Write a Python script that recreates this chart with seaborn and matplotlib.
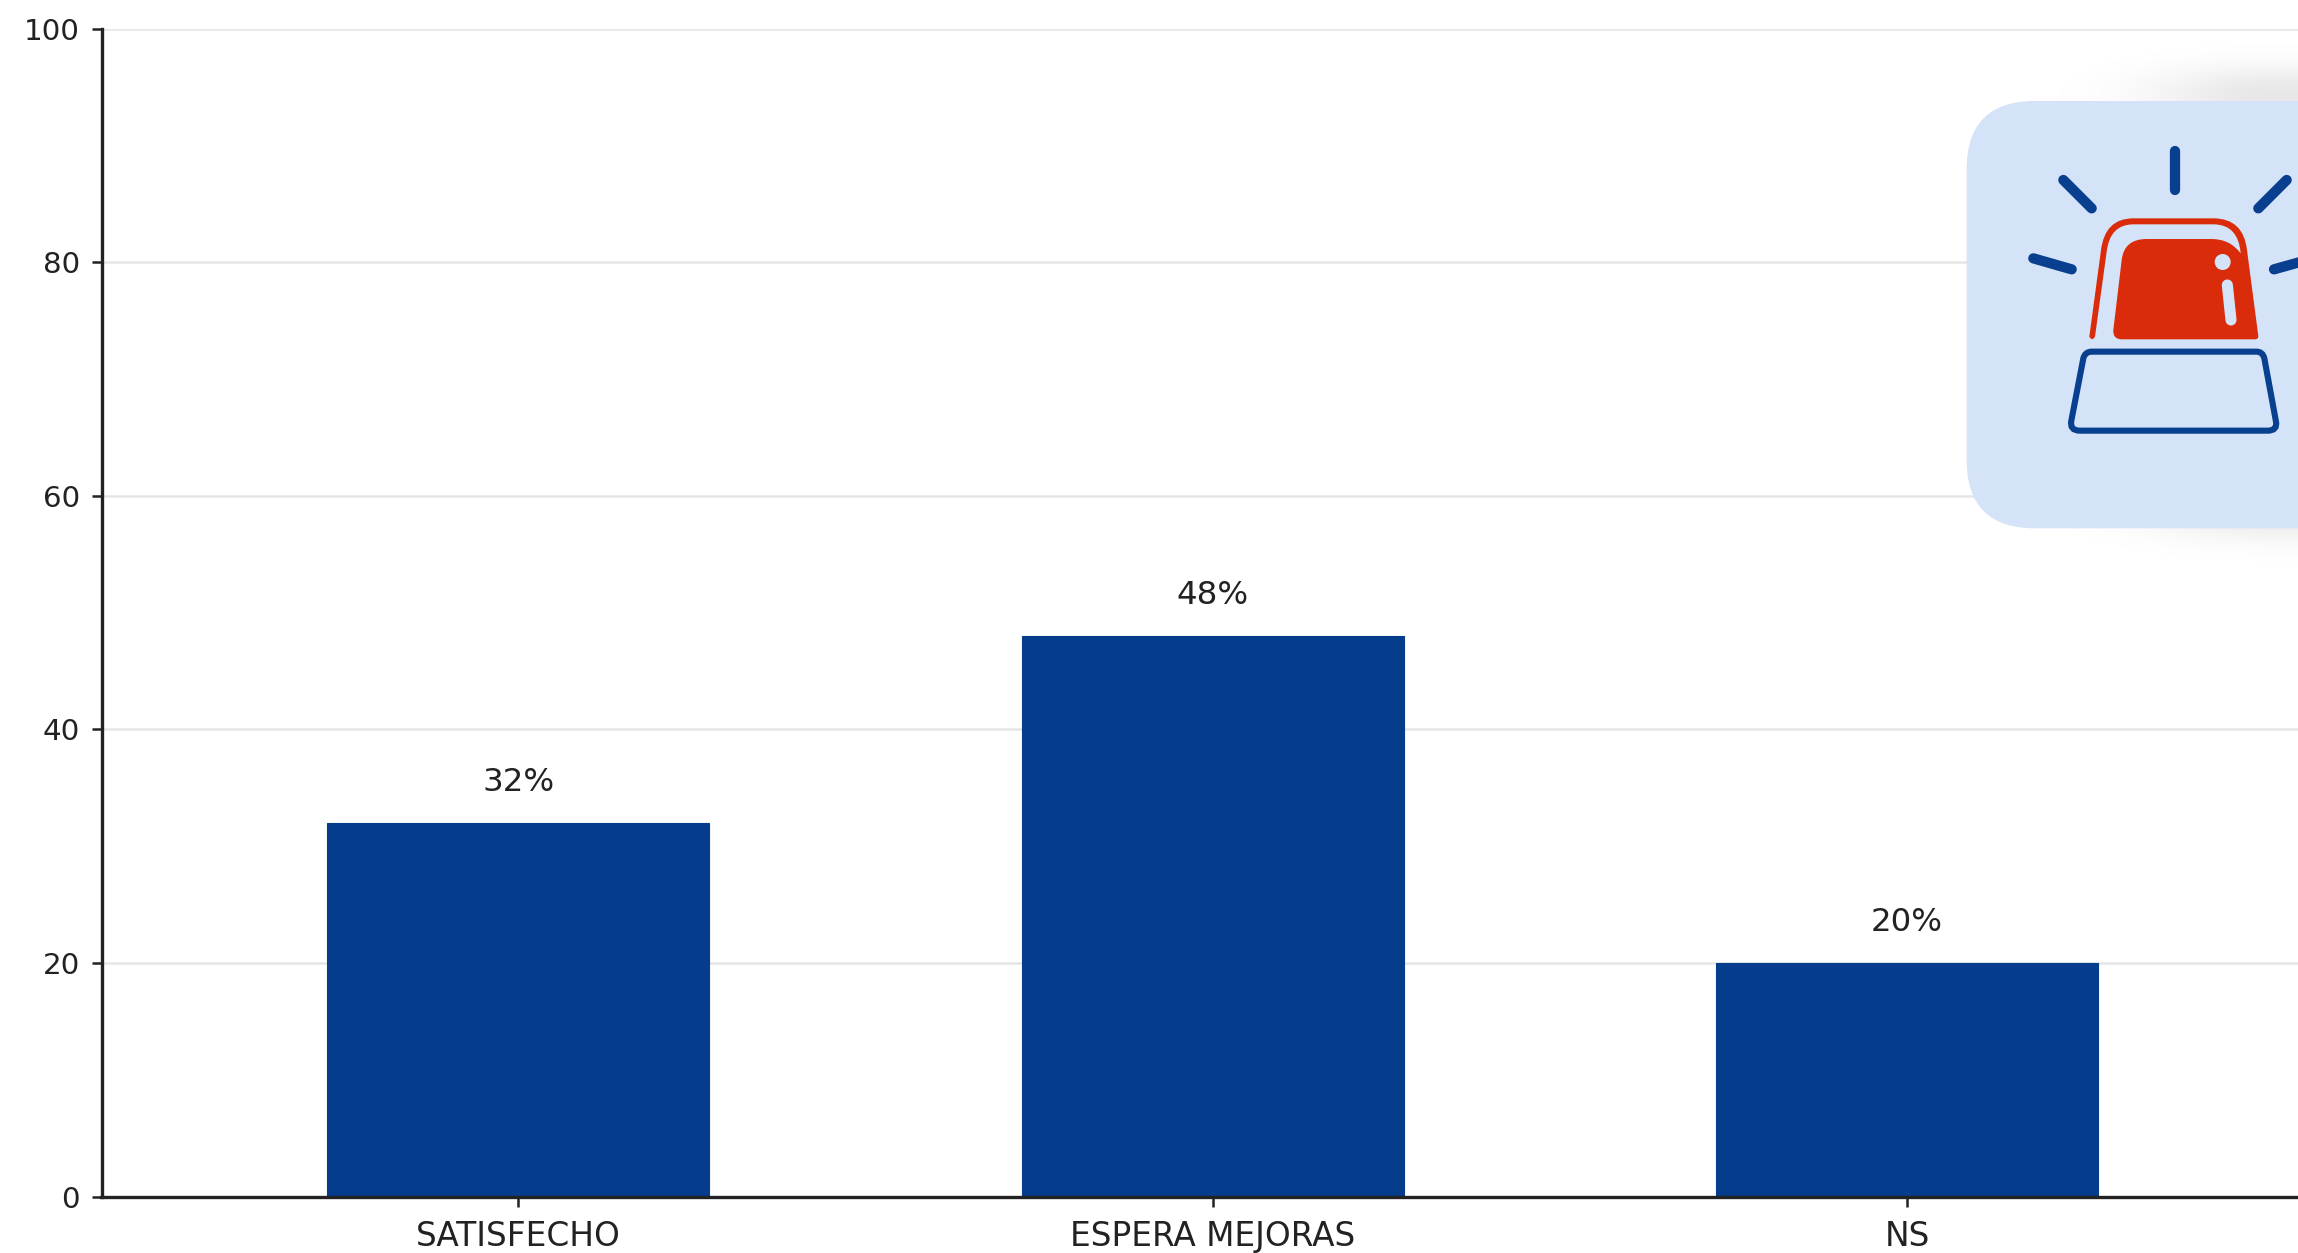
import matplotlib
matplotlib.use("Agg")
import matplotlib.pyplot as plt
import numpy as np
import pandas as pd
import seaborn as sns
from matplotlib.patches import Circle, FancyBboxPatch, PathPatch
from matplotlib.path import Path

categories = ["SATISFECHO", "ESPERA MEJORAS", "NS"]
values = [32, 48, 20]
value_labels = ["32%", "48%", "20%"]
y_ticks = [0, 20, 40, 60, 80, 100]

BAR_BLUE = "#063c8c"
ICON_BLUE = "#083f8f"
ICON_RED = "#da2c0a"
PANEL = "#d5e3f8"
DARK = "#222222"

W, H = 2298, 1253
sns.set_theme(style="white")
plt.rcParams["font.family"] = ["DejaVu Sans"]

df = pd.DataFrame({"categoria": categories, "valor": values})

fig = plt.figure(figsize=(W / 200, H / 200), dpi=200, facecolor="white")
ax = fig.add_axes([101.5 / W, 1 - 1196.5 / H, (W - 101.5) / W, (1196.5 - 28.7) / H])

sns.barplot(data=df, x="categoria", y="valor", color=BAR_BLUE, saturation=1, width=0.55,
            edgecolor=BAR_BLUE, linewidth=0.4, ax=ax, zorder=3)
ax.bar_label(ax.containers[0], labels=value_labels, padding=9.1, fontsize=11.7, color=DARK)

ax.set_ylim(0, 100)
ax.set_xlim(-0.6, 2.563)
ax.set_yticks(y_ticks)
ax.set_xlabel("")
ax.set_ylabel("")
ax.yaxis.grid(True, color="#e6e6e6", linewidth=0.9)
ax.set_axisbelow(True)
ax.tick_params(axis="both", length=3.5, width=0.9, color=DARK, labelcolor=DARK, bottom=True, left=True)
ax.tick_params(axis="x", labelsize=11.8, pad=5.0)
ax.tick_params(axis="y", labelsize=10.6, pad=4.2)
sns.despine(ax=ax)
for side in ["left", "bottom"]:
    ax.spines[side].set_linewidth(1.2)
    ax.spines[side].set_color(DARK)
    ax.spines[side].set_zorder(5)

# icon overlay, coordinates are 3x pixels from x=1900, y=0 offset by 60 px
icon = fig.add_axes([1900 / W, 1 - 600 / H, 398 / W, 600 / H], zorder=10)
icon.axis("off")
icon.patch.set_alpha(0)

# soft shadow behind the panel
gx, gy = np.meshgrid(np.arange(0, 1194, 6), np.arange(-180, 1620, 6))
dx = np.clip(1100 - gx, 0, None)
dy = np.clip(100 - gy, 0, None) + np.clip(gy - 1350, 0, None)
shadow = np.zeros(gx.shape + (4,))
shadow[..., 3] = 0.095 * np.exp(-(dx / 350.0) ** 2 - (dy / 85.0) ** 2)
icon.imshow(shadow, extent=(0, 1194, 1620, -180), aspect="auto", interpolation="bilinear", zorder=0)
icon.set_xlim(0, 1194)
icon.set_ylim(1620, -180)

icon.add_patch(FancyBboxPatch((200, 123), 1400, 1282, boxstyle="round,pad=0,rounding_size=205",
                              facecolor=PANEL, edgecolor="none", zorder=1))

# rays
rays = [((825, 272), (825, 390)), ((490, 360), (575, 445)), ((1160, 360), (1075, 445)),
        ((400, 595), (515, 628)), ((1122, 628), (1240, 595))]
for a, b in rays:
    icon.plot([a[0], b[0]], [a[1], b[1]], color=ICON_BLUE, lw=3.7, solid_capstyle="round", zorder=2)

# base
M, L, C, Z = Path.MOVETO, Path.LINETO, Path.CURVE3, Path.CLOSEPOLY
base = [(M, (575, 875)), (L, (1070, 875)), (C, (1088, 875)), (C, (1093, 895)),
        (L, (1128, 1085)), (C, (1133, 1112)), (C, (1103, 1112)),
        (L, (540, 1112)), (C, (508, 1112)), (C, (514, 1082)),
        (L, (550, 895)), (C, (555, 875)), (C, (575, 875)), (Z, (575, 875))]
icon.add_patch(PathPatch(Path([p for _, p in base], [c for c, _ in base]),
                         facecolor="none", edgecolor=ICON_BLUE, lw=2.2, zorder=2))

# red dome
dome = [(M, (568, 830)), (L, (603, 570)), (C, (615, 475)), (C, (700, 475)),
        (L, (940, 475)), (C, (1030, 475)), (C, (1041, 570)),
        (L, (1075, 828)), (C, (1075, 838)), (C, (1065, 838)),
        (L, (665, 838)), (C, (638, 838)), (C, (640, 810)),
        (L, (665, 600)), (C, (672, 537)), (C, (740, 537)),
        (L, (935, 537)), (C, (990, 537)), (C, (1022, 580)),
        (C, (1015, 493)), (C, (940, 493)), (L, (700, 493)),
        (C, (630, 493)), (C, (620, 575)), (L, (585, 830)),
        (C, (576, 845)), (C, (568, 830)), (Z, (568, 830))]
icon.add_patch(PathPatch(Path([p for _, p in dome], [c for c, _ in dome]),
                         facecolor=ICON_RED, edgecolor="none", zorder=2))
icon.add_patch(Circle((968, 606), 24, facecolor=PANEL, edgecolor="none", zorder=3))
icon.plot([982, 993], [675, 780], color=PANEL, lw=4.0, solid_capstyle="round", zorder=3)

fig.savefig("out.png", dpi=200)
